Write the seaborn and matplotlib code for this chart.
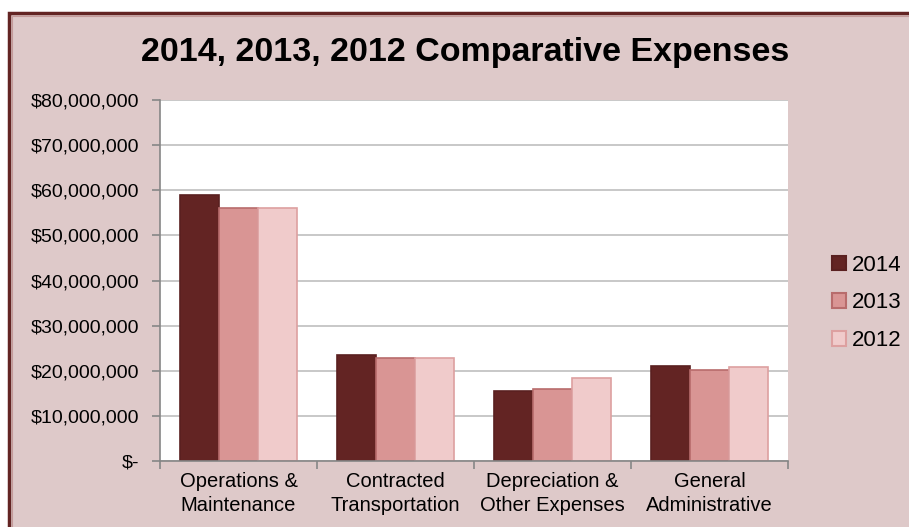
import pandas as pd
import matplotlib.pyplot as plt
import seaborn as sns
from matplotlib.patches import Rectangle, Patch
from matplotlib.ticker import FuncFormatter, FixedLocator

categories = ["Operations &\nMaintenance", "Contracted\nTransportation",
              "Depreciation &\nOther Expenses", "General\nAdministrative"]
years = ["2014", "2013", "2012"]
exp_2014 = [59.0e6, 23.4e6, 15.5e6, 21.0e6]
exp_2013 = [56.1e6, 22.9e6, 16.0e6, 20.2e6]
exp_2012 = [56.1e6, 22.9e6, 18.3e6, 20.9e6]

BG = "#DEC9C9"
fills = {"2014": "#632423", "2013": "#D99594", "2012": "#F0CBCB"}
edges = {"2014": "#5A2020", "2013": "#B86C6C", "2012": "#DDA0A0"}

rows = []
for yr, vals in zip(years, [exp_2014, exp_2013, exp_2012]):
    for c, v in zip(categories, vals):
        rows.append({"Category": c, "Year": yr, "Expense": v})
df = pd.DataFrame(rows)

sns.set_style("white")
plt.rcParams["font.family"] = ["Liberation Sans", "DejaVu Sans"]
plt.rcParams["text.color"] = "black"
plt.rcParams["xtick.color"] = "black"
plt.rcParams["ytick.color"] = "black"

fig = plt.figure(figsize=(9.09, 5.27), dpi=100, facecolor="white")
# outer frame (drawn beneath the axes)
fig.patches.append(Rectangle((9 / 909, -0.1), 1.0, 1.1 - 13 / 527, transform=fig.transFigure,
                             facecolor=BG, edgecolor="#632423", lw=2.5, zorder=-10))
fig.patches.append(Rectangle((12 / 909, -0.1), 1.0, 1.1 - 16 / 527, transform=fig.transFigure,
                             facecolor="none", edgecolor="#C49A9A", lw=0.8, zorder=-9))

ax = fig.add_axes([160 / 909, 66 / 527, 628 / 909, 361 / 527])
ax.set_facecolor("white")
sns.barplot(data=df, x="Category", y="Expense", hue="Year", hue_order=years,
            palette=fills, width=0.75, ax=ax, legend=False, saturation=1)
for cont, yr in zip(ax.containers, years):
    for bar in cont:
        bar.set_edgecolor(edges[yr])
        bar.set_linewidth(1.2)

ax.set_xlim(-0.5, 3.5)
ax.set_ylim(0, 80e6)
ax.yaxis.set_major_locator(FixedLocator([i * 10e6 for i in range(9)]))
ax.yaxis.set_major_formatter(FuncFormatter(lambda v, p: "$-" if v == 0 else f"${v:,.0f}"))
ax.yaxis.grid(True, color="#BFBFBF", lw=1.2)
ax.set_axisbelow(True)
ax.set_xlabel("")
ax.set_ylabel("")
ax.tick_params(axis="y", labelsize=14, length=6, width=1.2, color="#868686", direction="out",
               left=True, pad=9, labelcolor="black")
ax.tick_params(axis="x", labelsize=14.5, length=0, pad=8, labelcolor="black")
ax.set_xticks([-0.5, 0.5, 1.5, 2.5, 3.5], minor=True)
ax.tick_params(axis="x", which="minor", length=6, width=1.2, color="#868686", direction="out",
               bottom=True)
for lbl in ax.get_xticklabels():
    lbl.set_linespacing(1.3)
for s in ["top", "right"]:
    ax.spines[s].set_visible(False)
for s in ["left", "bottom"]:
    ax.spines[s].set_color("#868686")
    ax.spines[s].set_linewidth(1.2)

fig.text(465 / 909, 1 - 53 / 527, "2014, 2013, 2012 Comparative Expenses", ha="center",
         va="center", fontsize=24.5, fontweight="bold", color="black")

handles = [Patch(facecolor=fills[y], edgecolor=edges[y], lw=1.5, label=y) for y in years]
fig.legend(handles=handles, loc="center left", bbox_to_anchor=(812 / 909, 1 - 303 / 527),
           frameon=False, fontsize=16, handlelength=0.65, handleheight=0.65,
           handletextpad=0.25, labelspacing=0.75)

fig.savefig("out.png", dpi=100, facecolor=fig.get_facecolor())
